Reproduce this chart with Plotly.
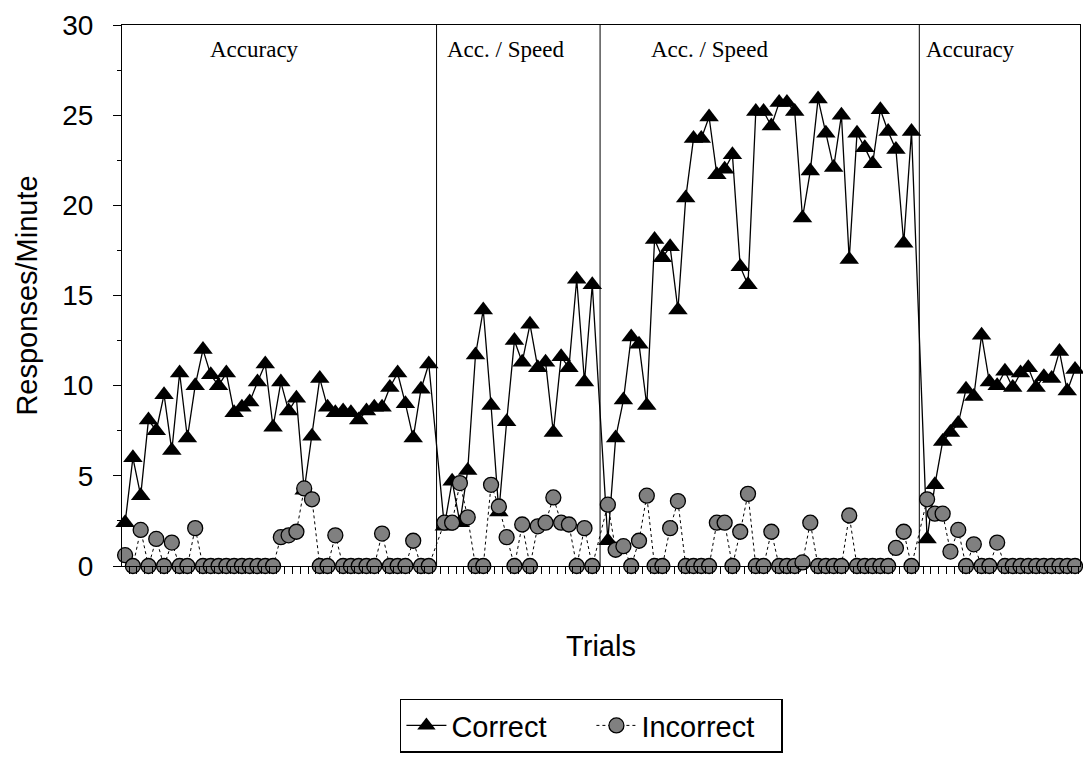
import plotly.graph_objects as go

# ---- data ----
phase_names = ["Accuracy", "Acc. / Speed", "Acc. / Speed", "Accuracy"]

correct_p1 = [2.4, 6.0, 3.9, 8.1, 7.5, 9.5, 6.4, 10.7, 7.1, 10.0,
              12.0, 10.6, 10.0, 10.7, 8.5, 8.8, 9.1, 10.2, 11.2, 7.7,
              10.2, 8.6, 9.3, 4.2, 7.2, 10.4, 8.8, 8.5, 8.6, 8.5,
              8.1, 8.6, 8.8, 8.8, 9.9, 10.7, 9.0, 7.1, 9.8, 11.2]
correct_p2 = [2.2, 4.7, 2.4, 5.3, 11.7, 14.2, 8.9, 3.0, 8.0, 12.5,
              11.3, 13.4, 11.0, 11.3, 7.4, 11.6, 11.0, 15.9, 10.2, 15.6]
correct_p3 = [1.4, 7.1, 9.2, 12.7, 12.3, 8.9, 18.1, 17.1, 17.7, 14.2,
              20.4, 23.7, 23.7, 24.9, 21.7, 22.0, 22.8, 16.6, 15.6, 25.2,
              25.2, 24.4, 25.7, 25.7, 25.2, 19.3, 21.9, 25.9, 24.0, 22.1,
              25.0, 17.0, 24.0, 23.2, 22.3, 25.3, 24.1, 23.1, 17.9, 24.1]
correct_p4 = [1.5, 4.5, 6.9, 7.4, 7.9, 9.8, 9.4, 12.8, 10.2, 10.0,
              10.8, 9.9, 10.7, 11.0, 9.9, 10.5, 10.4, 11.9, 9.7, 10.9]

incorrect_p1 = [0.6, 0, 2.0, 0, 1.5, 0, 1.3, 0, 0, 2.1,
                0, 0, 0, 0, 0, 0, 0, 0, 0, 0,
                1.6, 1.7, 1.9, 4.3, 3.7, 0, 0, 1.7, 0, 0,
                0, 0, 0, 1.8, 0, 0, 0, 1.4, 0, 0]
incorrect_p2 = [2.4, 2.4, 4.6, 2.7, 0, 0, 4.5, 3.3, 1.6, 0,
                2.3, 0, 2.2, 2.4, 3.8, 2.4, 2.3, 0, 2.1, 0]
incorrect_p3 = [3.4, 0.9, 1.1, 0, 1.4, 3.9, 0, 0, 2.1, 3.6,
                0, 0, 0, 0, 2.4, 2.4, 0, 1.9, 4.0, 0,
                0, 1.9, 0, 0, 0, 0.2, 2.4, 0, 0, 0,
                0, 2.8, 0, 0, 0, 0, 0, 1.0, 1.9, 0]
incorrect_p4 = [3.7, 2.9, 2.9, 0.8, 2.0, 0, 1.2, 0, 0, 1.3,
                0, 0, 0, 0, 0, 0, 0, 0, 0, 0]

y_ticks = [0, 5, 10, 15, 20, 25, 30]

# ---- build x positions: one empty slot at each phase change ----
correct_phases = [correct_p1, correct_p2, correct_p3, correct_p4]
incorrect_phases = [incorrect_p1, incorrect_p2, incorrect_p3, incorrect_p4]

xs, c_vals, i_vals, phase_lines = [], [], [], []
slot = 1
for k, (cp, ip) in enumerate(zip(correct_phases, incorrect_phases)):
    if k > 0:
        phase_lines.append(slot)
        slot += 1
    for c, i in zip(cp, ip):
        xs.append(slot)
        c_vals.append(c)
        i_vals.append(i)
        slot += 1
last_slot = slot - 1

fig = go.Figure()
fig.add_trace(go.Scatter(
    x=xs, y=c_vals, name="Correct", mode="lines+markers",
    line=dict(color="black", width=1.3),
    marker=dict(symbol="triangle-up", size=17, color="black"),
    cliponaxis=False))
fig.add_trace(go.Scatter(
    x=xs, y=i_vals, name="Incorrect", mode="lines+markers",
    line=dict(color="black", width=1, dash="dot"),
    marker=dict(symbol="circle", size=15, color="#808080",
                line=dict(color="black", width=1.3)),
    cliponaxis=False))

for pl in phase_lines:
    fig.add_shape(type="line", x0=pl, x1=pl, y0=0, y1=30, xref="x", yref="y",
                  line=dict(color="black", width=1))

label_x = [17.6, 49.9, 76.1, 109.6]
for name, lx in zip(phase_names, label_x):
    fig.add_annotation(x=lx, y=28.65, xref="x", yref="y", text=name,
                       showarrow=False,
                       font=dict(family="Liberation Serif", size=23, color="black"))

fig.update_layout(
    width=1083, height=757,
    margin=dict(l=122, r=3, t=25, b=191),
    paper_bgcolor="white", plot_bgcolor="white",
    font=dict(family="Liberation Sans", color="black"),
    showlegend=True,
    legend=dict(orientation="h", x=0.49, xanchor="center", y=-0.245, yanchor="top",
                bordercolor="black", borderwidth=1.5,
                font=dict(family="Liberation Sans", size=29, color="black"),
                itemwidth=40, entrywidth=135, entrywidthmode="pixels"),
    xaxis=dict(range=[0.6, last_slot + 0.64], showgrid=False, zeroline=False,
               automargin=False,
               showline=True, linecolor="black", linewidth=1, mirror=True,
               tick0=0.5, dtick=1, ticks="outside", ticklen=7, tickcolor="black",
               showticklabels=False,
               title=dict(text="Trials", standoff=62,
                          font=dict(family="Liberation Sans", size=29, color="black"))),
    yaxis=dict(range=[0, 30], showgrid=False, zeroline=False,
               automargin=False,
               showline=True, linecolor="black", linewidth=1, mirror=True,
               tickmode="array", tickvals=y_ticks, ticktext=[str(v) for v in y_ticks],
               ticks="outside", ticklen=8, tickcolor="black",
               ticklabelstandoff=14,
               minor=dict(dtick=2.5, ticks="outside", ticklen=4, tickcolor="black"),
               tickfont=dict(family="Liberation Sans", size=28, color="black"),
               title=dict(text="Responses/Minute", standoff=16,
                          font=dict(family="Liberation Sans", size=29, color="black"))),
)

fig.write_html("out.html", config={"displayModeBar": False},
               post_script="document.body.style.margin='0';")
